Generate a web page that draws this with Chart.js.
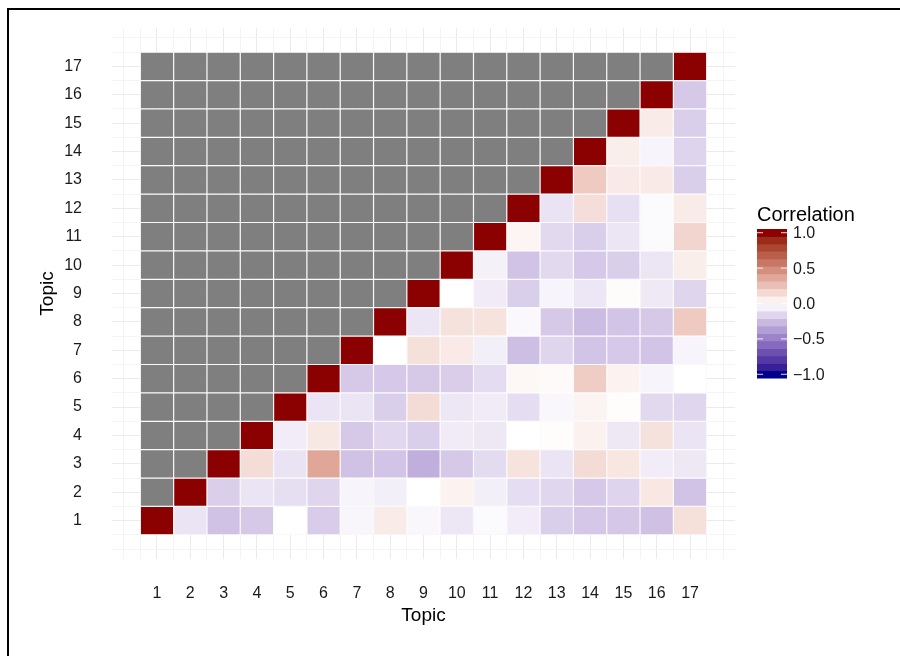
<!DOCTYPE html>
<html>
<head>
  <meta charset="UTF-8">
  <title>Topic Correlation</title>
  <script src="https://cdn.jsdelivr.net/npm/chart.js"></script>
  <style>
    body { margin: 0; background: #fff; }
    #frame {
      position: absolute; left: 7px; top: 8px;
      width: 1000px; height: 1000px;
      border-top: 2px solid #000; border-left: 2px solid #000;
    }
    #wrap { position: absolute; left: 0; top: 0; width: 900px; height: 656px; }
  </style>
</head>
<body>
  <div id="frame"></div>
  <div id="wrap"><canvas id="chart" width="900" height="656"></canvas></div>

  <script>
    const topics = [1, 2, 3, 4, 5, 6, 7, 8, 9, 10, 11, 12, 13, 14, 15, 16, 17];

    // correlation per row (y topic), one value per column (x topic); null = masked
    const row1 = [1, -0.10, -0.23, -0.20, 0.00, -0.19, -0.035, 0.08, -0.03, -0.09, -0.02, -0.07, -0.18, -0.21, -0.21, -0.235, 0.13];
    const row2 = [null, 1, -0.18, -0.10, -0.12, -0.155, -0.04, -0.06, 0.00, 0.05, -0.06, -0.125, -0.15, -0.205, -0.16, 0.10, -0.225];
    const row3 = [null, null, 1, 0.14, -0.105, 0.37, -0.23, -0.22, -0.305, -0.20, -0.135, 0.115, -0.10, 0.145, 0.105, -0.07, -0.085];
    const row4 = [null, null, null, 1, -0.07, 0.095, -0.20, -0.145, -0.18, -0.075, -0.085, 0.00, 0.01, 0.055, -0.085, 0.12, -0.10];
    const row5 = [null, null, null, null, 1, -0.10, -0.10, -0.18, 0.145, -0.09, -0.075, -0.125, -0.03, 0.045, 0.01, -0.14, -0.15];
    const row6 = [null, null, null, null, null, 1, -0.20, -0.205, -0.20, -0.185, -0.13, 0.03, 0.02, 0.21, 0.05, -0.04, 0.00];
    const row7 = [null, null, null, null, null, null, 1, 0.00, 0.13, 0.085, -0.06, -0.245, -0.155, -0.22, -0.205, -0.22, -0.04];
    const row8 = [null, null, null, null, null, null, null, 1, -0.095, 0.12, 0.115, -0.025, -0.20, -0.25, -0.22, -0.20, 0.22];
    const row9 = [null, null, null, null, null, null, null, null, 1, 0.00, -0.075, -0.18, -0.04, -0.09, 0.015, -0.08, -0.155];
    const row10 = [null, null, null, null, null, null, null, null, null, 1, -0.05, -0.225, -0.14, -0.205, -0.18, -0.095, 0.07];
    const row11 = [null, null, null, null, null, null, null, null, null, null, 1, 0.04, -0.14, -0.18, -0.095, -0.02, 0.175];
    const row12 = [null, null, null, null, null, null, null, null, null, null, null, 1, -0.105, 0.135, -0.115, -0.02, 0.08];
    const row13 = [null, null, null, null, null, null, null, null, null, null, null, null, 1, 0.22, 0.085, 0.085, -0.18];
    const row14 = [null, null, null, null, null, null, null, null, null, null, null, null, null, 1, 0.07, -0.04, -0.16];
    const row15 = [null, null, null, null, null, null, null, null, null, null, null, null, null, null, 1, 0.08, -0.18];
    const row16 = [null, null, null, null, null, null, null, null, null, null, null, null, null, null, null, 1, -0.20];
    const row17 = [null, null, null, null, null, null, null, null, null, null, null, null, null, null, null, null, 1];
    const rows = [row1, row2, row3, row4, row5, row6, row7, row8, row9, row10, row11, row12, row13, row14, row15, row16, row17];

    const legendTicks = [1.0, 0.5, 0.0, -0.5, -1.0];
    const gridBreaks = [0, 0.5, 1, 1.5, 2, 2.5, 3, 3.5, 4, 4.5, 5, 5.5, 6, 6.5, 7, 7.5, 8, 8.5, 9, 9.5,
      10, 10.5, 11, 11.5, 12, 12.5, 13, 13.5, 14, 14.5, 15, 15.5, 16, 16.5, 17, 17.5, 18];

    const FONT = "'Liberation Sans', Arial, sans-serif";
    const NA_COLOR = '#7f7f7f';

    // --- Lab gradient (darkblue - white - darkred), like scale_fill_gradient2
    function toLin(c) { c /= 255; return c <= 0.04045 ? c / 12.92 : Math.pow((c + 0.055) / 1.055, 2.4); }
    function fromLin(c) { c = c <= 0.0031308 ? 12.92 * c : 1.055 * Math.pow(c, 1 / 2.4) - 0.055; return Math.round(Math.min(1, Math.max(0, c)) * 255); }
    function rgb2lab(r, g, b) {
      r = toLin(r); g = toLin(g); b = toLin(b);
      let x = (0.4124 * r + 0.3576 * g + 0.1805 * b) / 0.95047;
      let y = (0.2126 * r + 0.7152 * g + 0.0722 * b);
      let z = (0.0193 * r + 0.1192 * g + 0.9505 * b) / 1.08883;
      const f = t => t > 0.008856 ? Math.cbrt(t) : 7.787 * t + 16 / 116;
      x = f(x); y = f(y); z = f(z);
      return [116 * y - 16, 500 * (x - y), 200 * (y - z)];
    }
    function lab2rgb(L, a, bb) {
      const fy = (L + 16) / 116, fx = fy + a / 500, fz = fy - bb / 200;
      const fi = t => t > 0.206893 ? t * t * t : (t - 16 / 116) / 7.787;
      const x = fi(fx) * 0.95047, y = fi(fy), z = fi(fz) * 1.08883;
      const r = 3.2406 * x - 1.5372 * y - 0.4986 * z;
      const g = -0.9689 * x + 1.8758 * y + 0.0415 * z;
      const b = 0.0557 * x - 0.2040 * y + 1.0570 * z;
      return `rgb(${fromLin(r)},${fromLin(g)},${fromLin(b)})`;
    }
    const LOW = rgb2lab(0, 0, 139), MID = rgb2lab(255, 255, 255), HIGH = rgb2lab(139, 0, 0);
    function corrColor(v) {
      if (v === null) return NA_COLOR;
      const end = v < 0 ? LOW : HIGH, t = Math.abs(v);
      return lab2rgb(MID[0] + (end[0] - MID[0]) * t, MID[1] + (end[1] - MID[1]) * t, MID[2] + (end[2] - MID[2]) * t);
    }

    // grid ticks are every 0.5 unit, so barPercentage 2 makes each tile one unit wide
    const datasets = rows.map((vals, j) => ({
      label: 'Topic ' + topics[j],
      data: topics.map(x => ({ x: x, y: [topics[j] - 0.5, topics[j] + 0.5] })),
      backgroundColor: vals.map(corrColor),
      borderColor: '#ffffff',
      borderWidth: 0.6,
      borderSkipped: false,
      barPercentage: 2,
      categoryPercentage: 1,
      grouped: false
    }));

    const gridColor = ctx => {
      const v = ctx.tick ? ctx.tick.value : 0;
      return (Number.isInteger(v) && v >= 1 && v <= 17) ? '#ebebeb' : '#f4f4f4';
    };
    const tickLabel = v => (Number.isInteger(v) && v >= 1 && v <= 17) ? String(v) : '';

    const colorbar = {
      id: 'colorbar',
      afterDraw(chart) {
        const ctx = chart.ctx;
        const x0 = 757, w = 30, top = 229, h = 149, nbin = 20;
        ctx.save();
        ctx.fillStyle = '#000';
        ctx.font = `20px ${FONT}`;
        ctx.textBaseline = 'alphabetic';
        ctx.textAlign = 'left';
        ctx.fillText('Correlation', x0, 221);
        const bh = h / nbin;
        for (let k = 0; k < nbin; k++) {
          const v = -1 + k * 2 / (nbin - 1);
          ctx.fillStyle = corrColor(v);
          ctx.fillRect(x0, top + h - (k + 1) * bh, w, bh + 0.5);
        }
        ctx.font = `16px ${FONT}`;
        ctx.textBaseline = 'middle';
        legendTicks.forEach(v => {
          const y = top + h - h * (0.5 + (v + 1) / 2 * (nbin - 1)) / nbin;
          ctx.strokeStyle = 'rgba(255,255,255,0.85)';
          ctx.lineWidth = 1;
          ctx.beginPath();
          ctx.moveTo(x0, y); ctx.lineTo(x0 + 6, y);
          ctx.moveTo(x0 + w - 6, y); ctx.lineTo(x0 + w, y);
          ctx.stroke();
          ctx.fillStyle = '#1a1a1a';
          ctx.fillText(v.toFixed(1).replace('-', '\u2212'), x0 + 36, y + 1);
        });
        ctx.restore();
      }
    };

    new Chart(document.getElementById('chart'), {
      type: 'bar',
      data: { datasets: datasets },
      options: {
        responsive: false,
        animation: false,
        layout: { padding: { left: 0, top: 28, right: 165, bottom: 0 } },
        plugins: { legend: { display: false }, tooltip: { enabled: false } },
        scales: {
          x: {
            type: 'linear', min: -0.35, max: 18.35, bounds: 'data', stacked: false, offset: false,
            afterBuildTicks: s => { s.ticks = gridBreaks.map(v => ({ value: v })); },
            afterFit: s => { s.height = 97; },
            border: { display: false },
            grid: { color: gridColor, lineWidth: 1, drawTicks: false, offset: false },
            ticks: { callback: tickLabel, autoSkip: false, maxRotation: 0, padding: 25,
              color: '#1a1a1a', font: { family: FONT, size: 16 } },
            title: { display: true, text: 'Topic', color: '#000',
              font: { family: FONT, size: 19 }, padding: { top: 0, bottom: 29 } }
          },
          y: {
            type: 'linear', min: -0.35, max: 18.35, bounds: 'data', stacked: false, offset: false,
            afterBuildTicks: s => { s.ticks = gridBreaks.map(v => ({ value: v })); },
            afterFit: s => { s.width = 112; s.paddingTop = 0; s.paddingBottom = 0; },
            border: { display: false },
            grid: { color: gridColor, lineWidth: 1, drawTicks: false },
            ticks: { callback: tickLabel, autoSkip: false, padding: 30,
              color: '#1a1a1a', font: { family: FONT, size: 16 } },
            title: { display: true, text: 'Topic', color: '#000',
              font: { family: FONT, size: 19 }, padding: { top: 36, bottom: 0 } }
          }
        }
      },
      plugins: [colorbar]
    });
  </script>
</body>
</html>
